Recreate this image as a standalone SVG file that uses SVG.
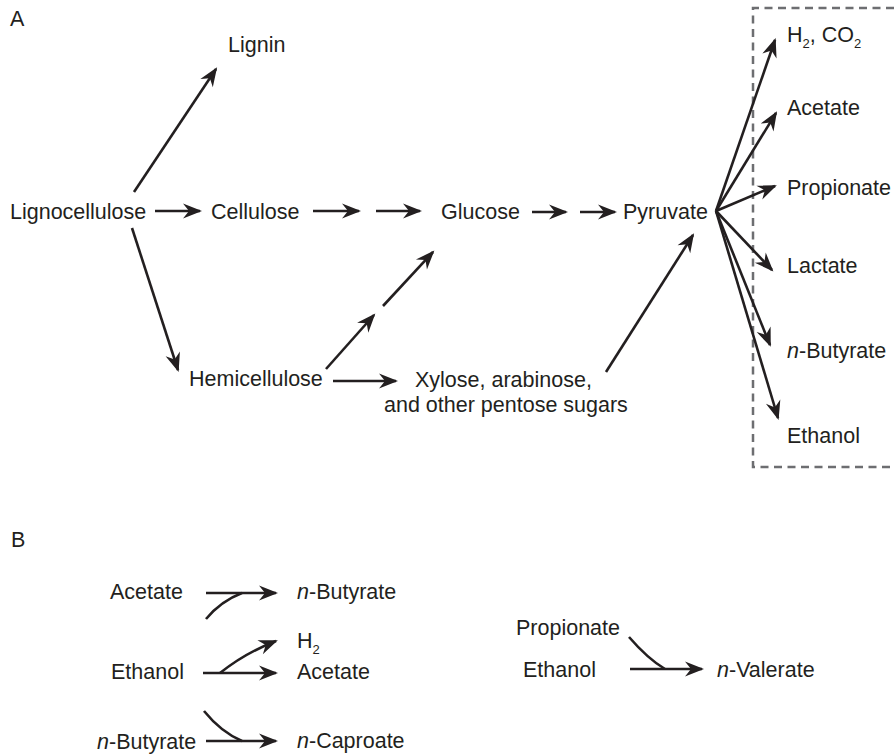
<svg xmlns="http://www.w3.org/2000/svg" width="896" height="755" viewBox="0 0 896 755">
<style>
text{font-family:"Liberation Sans",Arial,sans-serif;font-size:21.5px;fill:#231f20}
.sub{font-size:13px}
.it{font-style:italic}
.c{fill:none;stroke:#231f20;stroke-width:2.6}
.a{marker-end:url(#ah)}
.box{fill:none;stroke:#6d6e71;stroke-width:2.5;stroke-dasharray:8 5.5}
</style>
<defs>
<marker id="ah" viewBox="-20 -9 24 18" refX="0" refY="0" markerWidth="24" markerHeight="18" markerUnits="userSpaceOnUse" orient="auto">
<path d="M2,0 L-17,-7.5 L-11,0 L-17,7.5 Z" fill="#231f20"/>
</marker>
</defs>
<rect width="896" height="755" fill="#fff"/>
<text x="10" y="26">A</text>
<text x="11" y="547">B</text>
<path class="box" d="M894,8 H753 V467 H894"/>
<g id="n-lignocellulose"><text x="10" y="219">Lignocellulose</text></g>
<g id="n-lignin"><text x="228" y="52">Lignin</text></g>
<g id="n-cellulose"><text x="211" y="219">Cellulose</text></g>
<g id="n-glucose"><text x="441" y="219">Glucose</text></g>
<g id="n-pyruvate"><text x="623" y="219">Pyruvate</text></g>
<g id="n-hemicellulose"><text x="189" y="386">Hemicellulose</text></g>
<g id="n-pentose"><text x="415" y="387">Xylose, arabinose,</text><text x="384" y="412">and other pentose sugars</text></g>
<g id="n-h2co2"><text x="787" y="42">H<tspan class="sub" dy="6">2</tspan><tspan dy="-6">, CO</tspan><tspan class="sub" dy="6">2</tspan></text></g>
<g id="n-acetate"><text x="787" y="115">Acetate</text></g>
<g id="n-propionate"><text x="787" y="195">Propionate</text></g>
<g id="n-lactate"><text x="787" y="273">Lactate</text></g>
<g id="n-butyrate"><text x="787" y="358"><tspan class="it">n</tspan>-Butyrate</text></g>
<g id="n-ethanol"><text x="787" y="443">Ethanol</text></g>
<g id="b-acetate1"><text x="110" y="599">Acetate</text></g>
<g id="b-butyrate1"><text x="297" y="599"><tspan class="it">n</tspan>-Butyrate</text></g>
<g id="b-h2"><text x="297" y="648">H<tspan class="sub" dy="6">2</tspan></text></g>
<g id="b-ethanol1"><text x="111" y="679">Ethanol</text></g>
<g id="b-acetate2"><text x="297" y="679">Acetate</text></g>
<g id="b-butyrate2"><text x="97" y="749"><tspan class="it">n</tspan>-Butyrate</text></g>
<g id="b-caproate"><text x="297" y="748"><tspan class="it">n</tspan>-Caproate</text></g>
<g id="b-propionate"><text x="516" y="635">Propionate</text></g>
<g id="b-ethanol2"><text x="523" y="677">Ethanol</text></g>
<g id="b-valerate"><text x="717" y="677"><tspan class="it">n</tspan>-Valerate</text></g>
<g id="connectors">
<path class="c a" d="M155,211 H200"/>
<path class="c a" d="M313,211 H359"/>
<path class="c a" d="M376,211 H420"/>
<path class="c a" d="M532,212 H566"/>
<path class="c a" d="M580,212 H615"/>
<path class="c a" d="M134,192 L216,69"/>
<path class="c a" d="M132,228 L178,370"/>
<path class="c a" d="M326,369 L374,315"/>
<path class="c a" d="M383,306 L433,252"/>
<path class="c a" d="M333,381 H396"/>
<path class="c a" d="M606,372 L693,235"/>
<path class="c a" d="M716,211 L775,40"/>
<path class="c a" d="M716,211 L776,113"/>
<path class="c a" d="M716,211 L775,186"/>
<path class="c a" d="M716,211 L772,270"/>
<path class="c a" d="M716,211 L770,345"/>
<path class="c a" d="M716,211 L778,418"/>
<path class="c a" d="M206,593 H276"/>
<path class="c" d="M206,619 Q221,601 242,593"/>
<path class="c a" d="M203,673 H276"/>
<path class="c a" d="M220,673 Q245,653 276,641"/>
<path class="c a" d="M206,741 H276"/>
<path class="c" d="M204,711 Q221,732 242,741"/>
<path class="c a" d="M630,669 H702"/>
<path class="c" d="M629,637 Q648,659 665,669"/>
</g>
</svg>
